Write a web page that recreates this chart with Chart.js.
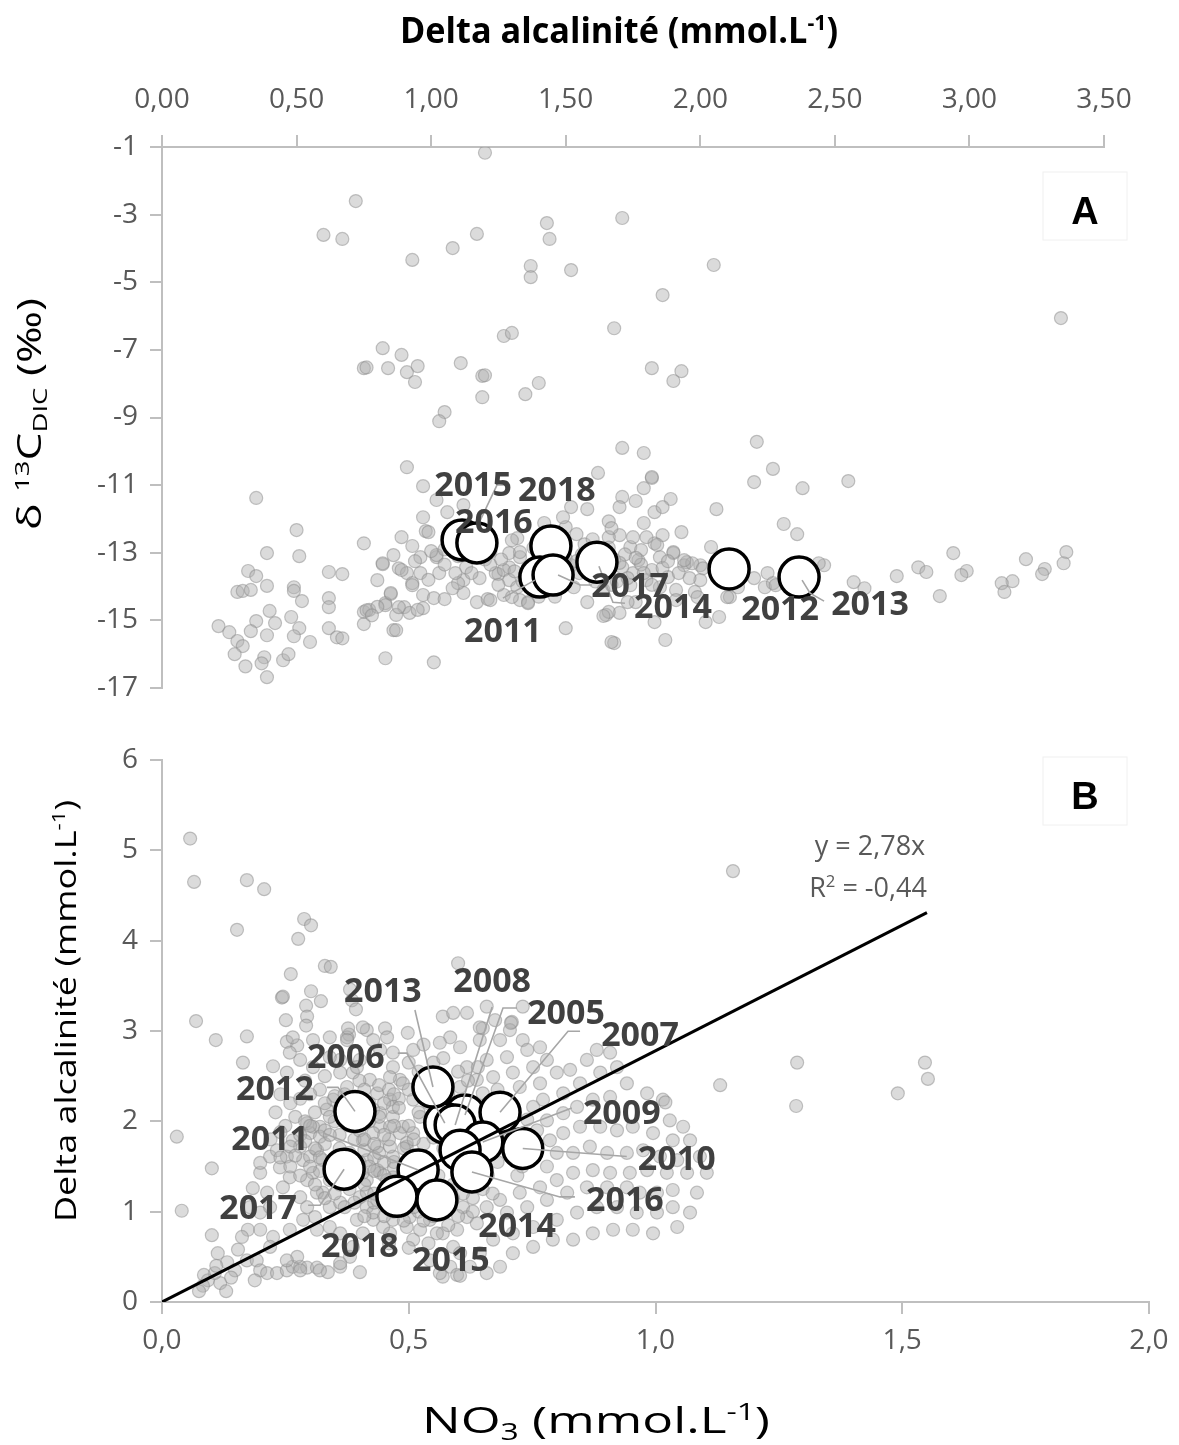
<!DOCTYPE html>
<html><head><meta charset="utf-8">
<script src="https://cdn.jsdelivr.net/npm/chart.js@4.4.0/dist/chart.umd.min.js"></script>
<style>
html,body{margin:0;padding:0;background:#fff;}
#wrap{position:relative;width:1179px;height:1445px;background:#fff;overflow:hidden;}
canvas{position:absolute;left:0;}
#cA{top:0;width:1179px;height:720px;}
#cB{top:720px;width:1179px;height:725px;}
</style></head><body>
<div id="wrap"><canvas id="cA" width="1179" height="720"></canvas><canvas id="cB" width="1179" height="725"></canvas></div>
<script>
// ---------------- DATA ----------------
// Panel A: samples [Delta alcalinité, δ13C-DIC]
const samplesA = [
[1.20,-1.17],[0.72,-2.60],[0.60,-3.60],[0.67,-3.72],[0.93,-4.34],[1.08,-3.99],[1.17,-3.57],[1.43,-3.25],[1.44,-3.72],[1.37,-4.52],[1.37,-4.85],[1.52,-4.64],[1.71,-3.10],[2.05,-4.49],[1.86,-5.38],[1.68,-6.36],[3.34,-6.06],[1.27,-6.59],[1.30,-6.50],[0.82,-6.95],[0.89,-7.15],[0.75,-7.54],[0.76,-7.52],[0.84,-7.54],[0.91,-7.66],[0.95,-7.48],[0.94,-7.95],[1.11,-7.39],[1.19,-7.77],[1.20,-7.75],[1.19,-8.40],[1.35,-8.31],[1.40,-7.98],[1.05,-8.84],[1.03,-9.11],[1.82,-7.54],[1.93,-7.63],[1.90,-7.92],
[2.21,-9.72],[2.27,-10.52],[2.20,-10.91],[2.38,-11.09],[2.55,-10.88],[2.06,-11.71],[2.31,-12.15],[2.36,-12.45],[1.71,-9.90],[1.79,-10.05],[1.82,-10.79],[1.79,-11.09],[1.71,-11.35],[1.76,-11.47],[1.89,-11.41],[1.70,-11.65],[1.83,-11.80],[1.86,-11.65],[1.66,-12.07],[1.79,-12.12],[1.93,-12.39],[2.04,-12.83],[2.94,-13.01],[2.81,-13.43],[2.84,-13.57],[2.73,-13.69],[2.99,-13.54],[2.97,-13.66],[3.21,-13.19],[3.36,-12.98],[3.35,-13.31],[3.28,-13.48],[3.27,-13.63],[3.16,-13.84],[3.12,-13.90],[3.13,-14.16],[2.89,-14.28],[2.57,-13.87],[2.61,-14.05],[2.46,-13.37],[2.44,-13.31],[2.25,-13.60],[2.20,-13.75],[2.24,-14.02],[2.27,-13.90],[2.14,-14.02],[2.11,-14.31],[2.07,-14.90],[2.02,-15.05],[1.98,-14.16],[2.00,-13.37],[1.95,-13.28],[1.90,-13.01],[1.87,-15.58],[1.68,-15.67],[1.83,-15.05],[1.65,-14.84],[1.70,-14.78],[1.76,-14.46],[1.91,-14.10],[1.85,-14.02],[1.80,-13.81],[1.75,-13.60],[1.74,-12.83],[1.78,-12.92],[1.83,-12.72],[1.86,-12.48],[1.85,-13.13],[1.71,-13.43],[1.65,-13.13],[1.94,-13.37],[1.62,-10.64],[1.82,-10.76],[1.50,-12.24],[1.42,-12.12],[1.97,-13.31],[2.01,-13.46],[2.11,-13.43],[2.00,-13.81],[1.88,-13.72],[1.82,-13.51],[1.91,-14.40],[1.99,-14.31],[2.10,-14.31],[2.28,-13.96],[1.66,-14.75],[1.73,-14.46],[1.74,-13.96],[1.77,-13.22],[1.84,-12.77],[1.80,-12.54],[1.75,-12.54],[1.70,-12.48],[1.66,-12.54],[1.90,-12.98],[1.94,-13.22],[1.58,-11.71],[1.50,-13.16],[1.52,-13.37],[1.55,-13.60],[1.50,-13.81],[1.53,-14.02],[1.58,-14.46],[1.50,-15.23],[1.67,-15.64],[1.60,-12.90],[1.64,-13.05],[1.68,-13.20],[1.62,-13.40],[1.57,-12.75],[1.66,-12.85],[1.72,-13.05],[1.78,-13.35],[1.63,-13.70],[1.69,-13.85],
[0.35,-11.38],[0.50,-12.33],[0.39,-13.01],[0.51,-13.10],[0.32,-13.54],[0.35,-13.69],[0.28,-14.16],[0.30,-14.13],[0.33,-14.10],[0.39,-13.98],[0.49,-14.02],[0.49,-14.13],[0.52,-14.43],[0.40,-14.72],[0.35,-15.02],[0.48,-14.90],[0.42,-15.08],[0.21,-15.17],[0.25,-15.35],[0.33,-15.32],[0.39,-15.44],[0.51,-15.23],[0.49,-15.47],[0.28,-15.61],[0.30,-15.76],[0.27,-16.00],[0.38,-16.09],[0.37,-16.27],[0.31,-16.36],[0.39,-16.68],[0.45,-16.18],[0.47,-16.00],[0.55,-15.64],[0.62,-13.57],[0.67,-13.63],[0.62,-14.34],[0.62,-14.61],[0.62,-15.23],[0.65,-15.50],[0.67,-15.53],[0.75,-12.72],[0.80,-13.81],[0.82,-13.34],[0.86,-13.07],[0.85,-14.22],[0.75,-14.75],[0.77,-14.69],[0.83,-14.49],[0.75,-15.11],[0.86,-15.29],[0.83,-16.12],[1.01,-16.24],[0.89,-12.54],[0.91,-10.47],[0.97,-11.03],[0.97,-11.95],[0.98,-12.36],[0.93,-12.80],[0.96,-13.13],[0.88,-13.46],[0.91,-13.60],[0.93,-13.90],[0.90,-14.61],[0.87,-14.84],[0.92,-14.78],[0.97,-14.64],[0.97,-14.25],[1.01,-14.34],[1.05,-14.37],[1.02,-13.13],[1.03,-13.60],[1.06,-11.80],[1.12,-11.59],[1.12,-13.81],[1.12,-14.19],[1.17,-14.46],[1.21,-14.37],[1.27,-14.25],[1.36,-14.46],[1.33,-14.40],[1.25,-13.63],[1.29,-13.43],[1.33,-13.13],[1.32,-12.57],[1.49,-11.95],[1.52,-11.65],[1.64,-14.87],[1.67,-12.27],
[1.02,-11.44],[0.99,-12.39],[1.02,-13.07],[0.82,-13.31],[0.89,-13.51],[0.96,-13.60],[0.93,-13.96],[0.85,-14.19],[0.83,-14.55],[0.88,-14.61],[0.95,-14.69],[0.87,-15.29],[1.10,-13.90],[1.13,-13.43],[1.09,-13.60],[1.22,-14.40],[1.24,-13.60],[1.27,-13.51],[1.29,-13.81],[1.32,-14.02],[1.30,-14.31],[1.36,-14.49],[1.22,-12.98],[1.30,-12.63],[1.29,-13.01],[1.33,-12.98],[1.36,-13.43],[1.18,-13.75],[1.25,-13.95],[1.34,-13.85],[1.40,-14.05],[1.44,-13.30],[1.20,-13.20],[1.38,-12.85],[1.45,-13.05],[1.15,-12.95],[1.08,-12.60],[1.12,-12.30],[1.05,-12.90],[0.76,-14.70],[0.80,-14.60],[0.78,-14.85],
[1.22,-13.35],[1.26,-13.20],[1.31,-13.55],[1.35,-13.65],[1.38,-13.40],[1.41,-13.60],[1.43,-13.85],[1.47,-13.75],[1.49,-13.50],[1.54,-13.25],[1.56,-13.05],[1.59,-13.55],[1.61,-13.85],[1.64,-14.10],[1.67,-13.95],[1.70,-13.30],[1.73,-13.75],[1.76,-13.15],[1.79,-13.60],[1.82,-13.95],[1.86,-13.45],[1.88,-13.25],[1.92,-13.60],[1.96,-13.75],[1.48,-12.55],[1.54,-12.45],[1.60,-12.60],[1.46,-14.30],[1.40,-14.30],[1.10,-13.10],[1.15,-13.60],[1.00,-12.95],[0.94,-13.25],[1.05,-13.35],[1.08,-14.05],[0.99,-13.80]
];
// Panel A: yearly means
const yearsA     = [2015, 2016, 2018, 2011, 2017, 2014, 2012, 2013];
const yearAlkA   = [1.115, 1.170, 1.445, 1.404, 1.453, 1.616, 2.107, 2.367];
const yearD13cA  = [-12.62, -12.71, -12.80, -13.72, -13.66, -13.28, -13.48, -13.72];
const ticksAx = ['0,00','0,50','1,00','1,50','2,00','2,50','3,00','3,50'];
const ticksAy = ['-17','-15','-13','-11','-9','-7','-5','-3','-1'];

// Panel B: samples [NO3, Delta alcalinité]
const samplesB = [
[0.057,5.13],[0.065,4.65],[0.172,4.67],[0.207,4.57],[0.152,4.12],[0.288,4.24],[0.302,4.17],[0.276,4.02],[0.330,3.72],[0.342,3.71],[0.261,3.63],[0.600,3.75],[0.243,3.37],[0.302,3.44],[0.322,3.33],[0.292,3.28],[0.294,3.16],[0.292,3.06],[0.251,3.12],[0.069,3.11],[0.381,3.46],[0.385,3.34],[0.393,3.24],[0.452,3.03],[0.498,2.98],[0.569,3.16],[0.590,3.20],[0.618,3.20],[0.658,3.27],[0.650,3.03],[0.675,3.12],[0.709,3.10],[0.731,3.27],[0.584,2.93],[0.109,2.90],[0.172,2.94],[0.379,2.96],[1.157,4.77],
[0.164,2.65],[0.225,2.61],[0.253,2.88],[0.274,2.84],[0.030,1.83],[0.040,1.01],[0.101,1.48],[0.101,0.74],[0.113,0.54],[0.132,0.44],[0.093,0.24],[0.083,0.18],[0.118,0.21],[0.107,0.32],[0.148,0.35],[0.172,0.46],[0.154,0.58],[0.192,0.46],[0.199,0.35],[0.188,0.24],[0.213,0.32],[0.233,0.32],[0.253,0.35],[0.265,0.39],[0.280,0.39],[0.294,0.38],[0.274,0.50],[0.314,0.38],[0.336,0.33],[0.361,0.39],[0.401,0.33],[0.381,0.50],[0.174,0.80],[0.162,0.72],[0.199,0.80],[0.225,0.72],[0.219,0.61],[0.259,0.80],[0.199,0.99],[0.178,1.05],[0.219,1.05],[0.213,1.21],[0.184,1.26],[0.199,1.43],[0.199,1.54],[0.219,1.61],[0.233,1.68],[0.253,1.61],[0.265,1.79],[0.239,1.49],[0.259,1.38],[0.245,1.27],[0.280,1.16],[0.294,1.05],[0.310,0.94],[0.286,0.91],[0.314,0.80],[0.340,0.83],[0.361,0.76],[0.387,0.61],[0.407,0.76],[0.428,0.91],[0.415,1.05],[0.326,1.21],[0.340,1.05],[0.361,1.10],[0.306,1.43],[0.286,1.57],[0.314,1.68],[0.300,1.87],[0.320,1.94],[0.294,1.98],[0.334,2.13],[0.347,2.24],[0.375,2.38],[0.387,2.54],[0.361,2.68],[0.401,2.68],[0.375,2.93],[0.415,3.01],[0.442,2.79],[0.456,2.93],[0.509,2.79],[0.468,2.60],[0.482,2.46],[0.436,2.31],[0.462,2.24],[0.428,2.13],[0.442,1.94],[0.468,2.05],[0.482,1.87],[0.509,2.24],[0.523,2.05],[0.496,1.72],[0.468,1.61],[0.436,1.72],[0.415,1.57],[0.442,1.43],[0.468,1.38],[0.415,1.35],[0.401,1.16],[0.436,1.13],[0.462,1.05],[0.428,0.99],[0.468,0.91],[0.496,0.83],[0.462,0.76],[0.509,0.69],[0.523,0.80],[0.543,0.91],[0.569,0.76],[0.590,0.61],[0.584,0.39],[0.569,0.28],[0.543,0.46],
[0.245,3.38],[0.377,3.03],[0.407,3.04],[0.468,2.76],[0.428,2.90],[0.375,2.90],[0.340,2.93],[0.306,2.90],[0.265,2.93],[0.259,2.76],[0.280,2.68],[0.253,2.54],[0.306,2.60],[0.340,2.71],[0.361,2.54],[0.395,2.60],[0.421,2.46],[0.462,2.49],[0.488,2.42],[0.468,2.16],[0.442,2.09],[0.462,1.94],[0.488,1.94],[0.509,1.87],[0.496,1.76],[0.462,1.72],[0.407,1.79],[0.428,1.87],[0.306,1.94],[0.320,1.83],[0.280,1.72],[0.300,1.61],[0.326,1.57],[0.294,1.35],[0.314,1.21],[0.407,1.43],[0.436,1.46],[0.456,1.35],[0.415,1.21],[0.395,0.91],[0.448,0.83],[0.502,0.94],[0.557,0.76],[0.598,0.80],[0.618,0.94],[0.638,0.87],[0.604,0.54],[0.624,0.39],[0.563,0.32],[0.598,0.30],[0.361,0.43],[0.320,0.35],[0.280,0.35],[0.253,0.46],
[0.563,2.87],[0.604,2.82],[0.644,2.90],[0.685,2.90],[0.705,3.01],[0.731,2.90],[0.644,3.04],[0.618,2.60],[0.658,2.68],[0.699,2.71],[0.740,2.79],[0.766,2.82],[0.780,2.68],[0.752,2.60],[0.711,2.54],[0.671,2.49],[0.638,2.46],[0.604,2.38],[0.650,2.31],[0.725,2.38],[0.766,2.42],[0.800,2.54],[0.827,2.57],[0.861,2.68],[0.881,2.79],[0.908,2.76],[0.922,2.60],[0.888,2.54],[0.847,2.42],[0.813,2.31],[0.772,2.24],[0.752,2.16],[0.780,2.01],[0.813,2.09],[0.841,2.16],[0.873,2.24],[0.908,2.27],[0.942,2.42],[0.983,2.31],[1.015,2.24],[1.029,2.01],[1.056,1.94],[1.035,1.79],[0.995,1.87],[0.954,1.94],[0.922,1.90],[0.888,1.94],[0.847,1.94],[0.813,1.87],[0.786,1.79],[0.800,1.65],[0.833,1.65],[0.867,1.72],[0.902,1.65],[0.942,1.65],[0.975,1.68],[1.009,1.61],[1.044,1.57],[1.064,1.43],[1.023,1.43],[0.983,1.46],[0.948,1.43],[0.908,1.43],[0.873,1.46],[0.833,1.43],[0.800,1.35],[0.766,1.27],[0.725,1.21],[0.685,1.13],[0.658,1.05],[0.699,0.99],[0.740,1.05],[0.780,1.13],[0.821,1.21],[0.861,1.27],[0.902,1.27],[0.942,1.27],[0.968,1.21],[1.003,1.21],[1.035,1.24],[1.035,1.05],[1.003,0.99],[0.962,0.99],[0.922,1.05],[0.881,1.05],[0.841,0.99],[0.800,0.91],[0.752,0.83],[0.711,0.76],[0.671,0.69],[0.644,0.54],[1.131,2.40],[1.070,1.79],[1.090,1.61],[1.104,1.43],[1.084,1.21],[1.070,0.99],[1.044,0.83],[0.995,0.76],[0.954,0.80],[0.914,0.80],[0.873,0.76],[0.833,0.69],[0.792,0.69],[0.752,0.61],[0.711,0.54],[0.685,0.39],[0.658,0.32],[0.604,0.29],
[1.287,2.65],[1.285,2.17],[1.546,2.65],[1.552,2.47],[1.491,2.31],[1.020,2.21],[0.707,3.09],
[0.25,1.95],[0.27,2.05],[0.23,2.10],[0.28,2.25],[0.32,2.35],[0.35,2.00],[0.36,1.85],[0.38,1.65],[0.34,1.50],[0.37,1.40],[0.33,1.75],[0.40,2.00],[0.42,2.20],[0.40,2.45],[0.52,2.55],[0.55,2.65],[0.54,2.20],[0.56,1.88],[0.53,1.60],[0.56,1.40],[0.52,1.30],[0.50,1.55],[0.48,1.05],[0.52,1.00],[0.55,1.05],[0.58,1.25],[0.62,1.30],[0.66,1.40],[0.68,1.55],[0.70,1.70],[0.72,1.85],[0.70,2.00],[0.66,2.20],[0.62,2.15],[0.68,2.35],[0.74,2.02],[0.76,1.90],[0.74,1.55],[0.78,1.50],[0.72,1.40],
[0.075,0.12],[0.085,0.30],[0.11,0.40],[0.14,0.27],[0.13,0.12],
[0.22,1.80],[0.24,1.88],[0.26,1.72],[0.28,1.85],[0.29,2.00],[0.31,2.10],[0.30,2.30],[0.33,2.20],[0.35,2.28],[0.37,2.15],[0.38,1.95],[0.39,1.80],[0.41,1.68],[0.43,1.60],[0.45,1.55],[0.47,1.48],[0.49,1.40],[0.51,1.62],[0.53,1.75],[0.55,1.82],[0.57,1.70],[0.59,1.55],[0.61,1.45],[0.63,1.58],[0.65,1.66],[0.67,1.80],[0.69,1.90],[0.71,1.62],[0.73,1.50],[0.35,1.60],[0.37,1.50],[0.39,1.40],[0.41,1.30],[0.43,1.20],[0.45,1.25],[0.47,1.20],[0.49,1.15],[0.51,1.20],[0.53,1.10],[0.55,1.20],[0.57,1.05],[0.59,1.15],[0.61,1.05],[0.63,1.15],[0.65,1.25],[0.67,1.20],[0.44,2.40],[0.46,2.35],[0.48,2.25],[0.50,2.35],[0.52,2.40],[0.54,2.35],[0.56,2.45],[0.58,2.30],[0.60,2.55],[0.62,2.45],[0.64,2.60],[0.57,2.70],[0.53,2.85],[0.50,2.65],[0.48,2.15],[0.46,1.80],[0.44,1.65],[0.42,1.50],[0.40,1.55],[0.38,1.25],[0.36,1.30],[0.34,1.35],[0.32,1.45],[0.30,1.50],[0.28,1.40],[0.26,1.50],[0.24,1.60],
[0.27,1.62],[0.29,1.78],[0.31,1.70],[0.33,1.90],[0.34,2.05],[0.36,2.12],[0.38,2.05],[0.40,1.90],[0.41,1.80],[0.43,1.75],[0.45,1.85],[0.47,1.95],[0.44,2.05],[0.42,2.00],[0.39,2.20],[0.37,2.30],[0.41,2.35],[0.45,2.20],[0.47,2.30],[0.43,1.45],[0.45,1.40],[0.47,1.55],[0.49,1.70],[0.51,1.80],[0.50,1.95],[0.52,2.10],[0.36,1.70],[0.34,1.85],[0.32,1.60],[0.30,1.95],[0.26,2.20],[0.24,2.30],[0.29,2.45],[0.33,2.50],[0.31,1.30],[0.33,1.15],[0.35,1.20],[0.37,1.05],[0.39,1.10],[0.41,0.95],[0.43,1.10],[0.45,0.95],[0.47,1.00],[0.49,0.90],[0.51,1.05],[0.53,0.90],[0.55,0.95],[0.57,1.15],[0.59,1.30],[0.61,1.20],[0.63,1.00],[0.60,0.95],[0.58,0.85],[0.54,0.65],[0.50,0.60],[0.46,0.65]
];
// Panel B: yearly means
const yearsB    = [2005, 2006, 2007, 2008, 2009, 2010, 2011, 2012, 2013, 2014, 2015, 2016, 2017, 2018];
const yearNO3B  = [0.614, 0.573, 0.685, 0.594, 0.650, 0.731, 0.519, 0.391, 0.549, 0.604, 0.557, 0.628, 0.369, 0.476];
const yearAlkB  = [2.07, 1.98, 2.10, 1.96, 1.77, 1.70, 1.46, 2.11, 2.38, 1.68, 1.13, 1.44, 1.47, 1.17];
// Panel B: trend line endpoints (y = 2,78x)
const trendNO3 = [0, 1.55];
const trendAlk = [0, 4.31];
const ticksBx = ['0,0','0,5','1,0','1,5','2,0'];
const ticksBy = ['0','1','2','3','4','5','6'];

// ---------------- LABEL LAYOUT (pixel offsets from each year circle) ----------------
const layoutA = {
  2015:{dx:11,dy:-56,lead:[[48,-55],[35,-55],[16,-15]]},
  2016:{dx:17,dy:-22},
  2018:{dx:6,dy:-57},
  2011:{dx:-37,dy:53,lead:[[-37,21],[-5,3]]},
  2017:{dx:77,dy:10,lead:[[39,10],[27,10],[5,0]]},
  2014:{dx:76,dy:44,lead:[[28,41],[16,40],[2,4]]},
  2012:{dx:51,dy:39},
  2013:{dx:71,dy:26,lead:[[25,24],[11,16],[3,3]]}
};
const layoutB = {
  2005:{dx:101,dy:-103,lead:[[52,-107],[38,-107],[0,0]]},
  2006:{dx:-99,dy:-67,lead:[[-47,-70],[-38,-70],[0,0]]},
  2007:{dx:140,dy:-78,lead:[[80,-81],[68,-81],[0,0]]},
  2008:{dx:37,dy:-145,lead:[[37,-118],[0,0]]},
  2009:{dx:139,dy:-30,lead:[[89,-34],[0,0]]},
  2010:{dx:154,dy:10,lead:[[104,8],[0,0]]},
  2011:{dx:-148,dy:-32,lead:[[-95,-37],[0,0]]},
  2012:{dx:-80,dy:-23,lead:[[-28,-24],[-17,-24],[0,0]]},
  2013:{dx:-50,dy:-97,lead:[[-18,-77],[0,0]]},
  2014:{dx:57,dy:75},
  2015:{dx:14,dy:59},
  2016:{dx:153,dy:27,lead:[[103,25],[88,25],[0,0]]},
  2017:{dx:-86,dy:38,lead:[[-36,36],[-24,36],[0,0]]},
  2018:{dx:-37,dy:49}
};

// ---------------- HELPERS ----------------
const FAM = "'Open Sans', sans-serif";
function segFont(s, size, weight){ return weight + ' ' + ((s.sup||s.sub)? size*0.62 : size) + 'px ' + FAM; }
function richWidth(ctx, segs, size, weight){
  let w = 0;
  for (const s of segs){ ctx.font = segFont(s,size,weight); w += ctx.measureText(s.t).width; }
  return w;
}
function drawRich(ctx, segs, cx, by, o){
  ctx.save();
  ctx.translate(cx, by);
  if (o.rot) ctx.rotate(o.rot);
  const w = richWidth(ctx, segs, o.size, o.weight);
  const sx = o.target ? o.target / w : 1;
  ctx.scale(sx, 1);
  ctx.fillStyle = o.color; ctx.textAlign = 'left'; ctx.textBaseline = 'alphabetic';
  let x = -w/2;
  for (const s of segs){
    ctx.font = segFont(s, o.size, o.weight);
    const dy = s.sup ? -o.size*0.36 : (s.sub ? o.size*0.2 : 0);
    ctx.fillText(s.t, x, dy);
    x += ctx.measureText(s.t).width;
  }
  ctx.restore();
}
function drawYearLabels(chart, years, layout, dsIndex){
  const ctx = chart.ctx;
  const meta = chart.getDatasetMeta(dsIndex);
  ctx.save();
  ctx.strokeStyle = '#a6a6a6'; ctx.lineWidth = 1.6;
  years.forEach((yr, i) => {
    const L = layout[yr]; const p = meta.data[i];
    if (L && L.lead){
      ctx.beginPath();
      L.lead.forEach((q, k) => { const X = p.x + q[0], Y = p.y + q[1]; if (k===0) ctx.moveTo(X,Y); else ctx.lineTo(X,Y); });
      ctx.stroke();
    }
  });
  ctx.font = 'bold 34px ' + FAM;
  ctx.fillStyle = '#404040'; ctx.textAlign = 'center'; ctx.textBaseline = 'alphabetic';
  years.forEach((yr, i) => {
    const L = layout[yr]; const p = meta.data[i];
    ctx.fillText(String(yr), p.x + L.dx, p.y + L.dy + 12);
  });
  ctx.restore();
}
function panelLetter(ctx, letter, cx, cy, box){
  ctx.save();
  ctx.strokeStyle = '#f0f0f0'; ctx.lineWidth = 1;
  ctx.strokeRect(box[0], box[1], box[2], box[3]);
  ctx.font = "bold 38px 'Liberation Sans', Arial, sans-serif";
  ctx.fillStyle = '#000'; ctx.textAlign = 'center'; ctx.textBaseline = 'alphabetic';
  ctx.fillText(letter, cx, cy + 14);
  ctx.restore();
}

Chart.defaults.font.family = FAM;
Chart.defaults.color = '#595959';
const gridStyle = {display:true, drawOnChartArea:false, drawTicks:true, tickLength:12, color:'#bfbfbf', lineWidth:2};
const borderStyle = {display:true, color:'#bfbfbf', width:2};
const tickFont = {size:28, family:FAM};
const grayFill = 'rgba(175,175,175,0.45)';
const grayRing = 'rgba(140,140,140,0.5)';

// ---------------- CHART A ----------------
const pluginA = {
  id:'annA',
  afterDatasetsDraw(chart){ drawYearLabels(chart, yearsA, layoutA, 0); },
  afterDraw(chart){
    const ctx = chart.ctx;
    drawRich(ctx, [{t:'Delta alcalinité (mmol.L'},{t:'-1',sup:true},{t:')'}], 619, 43, {size:35, weight:'bold', color:'#000', target:438});
    drawRich(ctx, [{t:'δ '},{t:'13',sup:true},{t:'C'},{t:'DIC',sub:true},{t:' (‰)'}], 41, 414, {size:32, weight:'normal', color:'#000', rot:-Math.PI/2, target:232});
    panelLetter(ctx, 'A', 1085, 210, [1043,172,84,68]);
  }
};
new Chart(document.getElementById('cA'), {
  type:'scatter',
  data:{datasets:[
    {label:'Années', data: yearsA.map((y,i)=>({x:yearAlkA[i], y:yearD13cA[i]})), pointRadius:20, backgroundColor:'#ffffff', borderColor:'#000000', borderWidth:3.5, order:1},
    {label:'Échantillons', data: samplesA.map(p=>({x:p[0], y:p[1]})), pointRadius:6.5, backgroundColor:grayFill, borderColor:grayRing, borderWidth:1.2, order:2}
  ]},
  options:{
    responsive:false, animation:false, devicePixelRatio:1,
    layout:{padding:{left:0, top:0, right:75, bottom:32}},
    plugins:{legend:{display:false}, tooltip:{enabled:false}},
    scales:{
      x:{type:'linear', position:'top', min:0, max:3.5,
         ticks:{stepSize:0.5, autoSkip:false, maxRotation:0, padding:18, font:tickFont, color:'#595959', callback:(v,i)=>ticksAx[i]},
         grid:gridStyle, border:borderStyle, afterFit:(s)=>{ s.height = 147; }},
      y:{type:'linear', min:-17, max:-1,
         ticks:{stepSize:2, autoSkip:false, padding:12, font:tickFont, color:'#595959', callback:(v,i)=>ticksAy[i]},
         grid:gridStyle, border:borderStyle, afterFit:(s)=>{ s.width = 162; }}
    }
  },
  plugins:[pluginA]
});

// ---------------- CHART B ----------------
const pluginB = {
  id:'annB',
  afterDatasetsDraw(chart){
    drawYearLabels(chart, yearsB, layoutB, 1);
    const ctx = chart.ctx;
    drawRich(ctx, [{t:'y = 2,78x'}], 870, 135, {size:27, weight:'normal', color:'#595959'});
    drawRich(ctx, [{t:'R'},{t:'2',sup:true},{t:' = -0,44'}], 868, 177, {size:27, weight:'normal', color:'#595959'});
  },
  afterDraw(chart){
    const ctx = chart.ctx;
    drawRich(ctx, [{t:'Delta alcalinité (mmol.L'},{t:'-1',sup:true},{t:')'}], 76, 291, {size:30, weight:'normal', color:'#000', rot:-Math.PI/2, target:422});
    drawRich(ctx, [{t:'NO'},{t:'3',sub:true},{t:' (mmol.L'},{t:'-1',sup:true},{t:')'}], 596, 713, {size:37, weight:'normal', color:'#000', target:348});
    panelLetter(ctx, 'B', 1085, 75, [1043,37,84,68]);
  }
};
new Chart(document.getElementById('cB'), {
  type:'scatter',
  data:{datasets:[
    {label:'y = 2,78x', data: trendNO3.map((x,i)=>({x:x, y:trendAlk[i]})), showLine:true, pointRadius:0, borderColor:'#000000', borderWidth:3, fill:false, order:0},
    {label:'Années', data: yearsB.map((y,i)=>({x:yearNO3B[i], y:yearAlkB[i]})), pointRadius:20, backgroundColor:'#ffffff', borderColor:'#000000', borderWidth:3.5, order:1},
    {label:'Échantillons', data: samplesB.map(p=>({x:p[0], y:p[1]})), pointRadius:6.5, backgroundColor:grayFill, borderColor:grayRing, borderWidth:1.2, order:2}
  ]},
  options:{
    responsive:false, animation:false, devicePixelRatio:1,
    layout:{padding:{left:0, top:40, right:30, bottom:0}},
    plugins:{legend:{display:false}, tooltip:{enabled:false}},
    scales:{
      x:{type:'linear', position:'bottom', min:0, max:2,
         ticks:{stepSize:0.5, autoSkip:false, maxRotation:0, padding:10, font:tickFont, color:'#595959', callback:(v,i)=>ticksBx[i]},
         grid:gridStyle, border:borderStyle, afterFit:(s)=>{ s.height = 143; }},
      y:{type:'linear', min:0, max:6,
         ticks:{stepSize:1, autoSkip:false, padding:12, font:tickFont, color:'#595959', callback:(v,i)=>ticksBy[i]},
         grid:gridStyle, border:borderStyle, afterFit:(s)=>{ s.width = 162; }}
    }
  },
  plugins:[pluginB]
});
</script>
</body></html>
